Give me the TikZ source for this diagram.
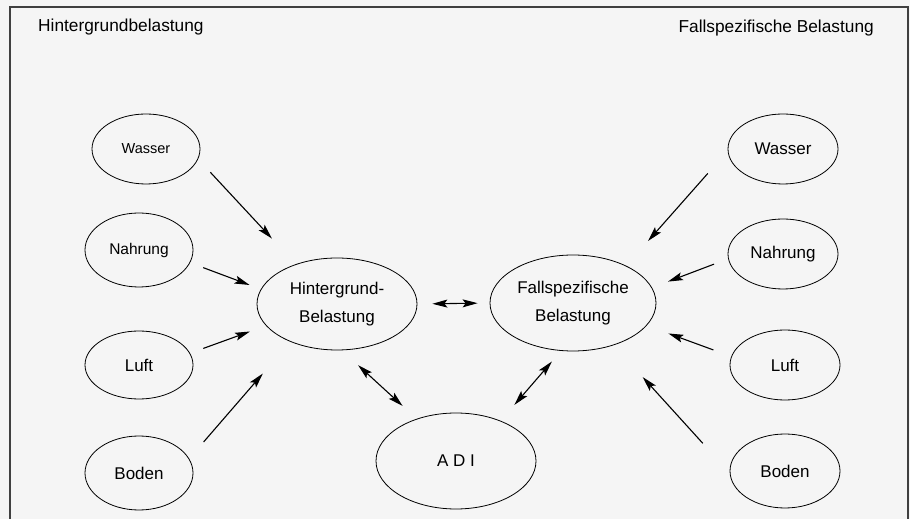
\documentclass[tikz,border=0pt]{standalone}
\usepackage{fontspec}
\setmainfont{Liberation Sans}
\usepackage{xcolor}
\usepackage{tikz}
\usetikzlibrary{positioning,arrows.meta,shapes.geometric}

\begin{document}
\begin{tikzpicture}[x=1pt,y=1pt,
  >={Stealth[length=15pt,width=8pt,inset=3pt]},
  quelle/.style={draw, ellipse, line width=0.8pt, inner sep=0pt,
    minimum width=108pt, minimum height=70pt,
    font=\fontsize{17}{20}\selectfont},
  belastung/.style={draw, ellipse, line width=0.8pt, inner sep=0pt, align=center,
    minimum width=162pt, minimum height=94pt,
    font=\fontsize{17}{27.5}\selectfont},
  titel/.style={inner sep=0pt, font=\fontsize{17.3}{20}\selectfont},
  pfeil/.style={line width=1.1pt, ->},
  doppel/.style={line width=1.1pt, <->}]

  \useasboundingbox[fill=black!4] (0,0) rectangle (910,519);
  \draw[line width=1.2pt, black!75] (10,-5) rectangle (908,512);

  \node[titel, anchor=base west] (t1) at (38,487) {Hintergrundbelastung};
  \node[titel, anchor=base east] (t2) at (874,486) {Fallspezifische Belastung};

  \node[quelle, font=\fontsize{14.5}{17}\selectfont] (wl) at (146,370) {Wasser};
  \node[quelle, minimum height=74pt, font=\fontsize{15.5}{18}\selectfont] (nl) at (139,269) {Nahrung};
  \node[quelle, minimum height=68pt] (ll) at (139,154) {Luft};
  \node[quelle, minimum height=74pt] (bl) at (139,46) {Boden};

  \node[belastung, minimum width=160pt, minimum height=92pt] (hg) at (337,215) {Hintergrund-\\Belastung};
  \node[belastung, minimum width=166pt, minimum height=96pt] (fs) at (573,216) {Fallspezifische\\Belastung};
  \node[belastung, minimum width=160pt, minimum height=96pt] (adi) at (456,58) {A D I};

  \node[quelle, minimum width=110pt] (wr) at (783,370) {Wasser};
  \node[quelle, minimum width=110pt] (nr) at (783,265) {Nahrung};
  \node[quelle, minimum width=110pt] (lr) at (785,154) {Luft};
  \node[quelle, minimum width=110pt, minimum height=74pt] (br) at (785,48) {Boden};

  \draw[pfeil, shorten <=18pt, shorten >=35pt] (wl.-11) -- (hg.136);
  \draw[pfeil, shorten <=14pt, shorten >=12pt] (nl.-14) -- (hg.169);
  \draw[pfeil, shorten <=14pt, shorten >=17pt] (ll.13) -- (hg.-163);
  \draw[pfeil, shorten <=22pt, shorten >=42pt] (bl.16) -- (hg.-141);

  \draw[doppel, shorten <=22pt, shorten >=19pt] (hg.-84) -- (adi.133);
  \draw[doppel, shorten <=15pt, shorten >=12pt] (hg.0) -- (fs.180);
  \draw[doppel, shorten <=14pt, shorten >=21pt] (fs.-104) -- (adi.42);

  \draw[pfeil, shorten <=30pt, shorten >=33pt] (wr.-178) -- (fs.35);
  \draw[pfeil, shorten <=15pt, shorten >=17pt] (nr.-175) -- (fs.11);
  \draw[pfeil, shorten <=19pt, shorten >=23pt] (lr.171) -- (fs.-17);
  \draw[pfeil, shorten <=40pt, shorten >=43pt] (br.-178) -- (fs.-46);
\end{tikzpicture}
\end{document}
